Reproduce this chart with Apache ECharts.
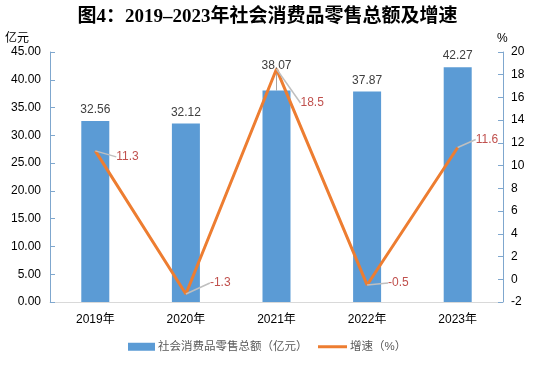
<!DOCTYPE html>
<html><head><meta charset="utf-8">
<script src="https://cdn.jsdelivr.net/npm/echarts@6/dist/echarts.min.js"></script>
<style>html,body{margin:0;padding:0;background:#fff}#c{width:535px;height:368px}</style>
</head><body><div id="c"></div>
<script>
var categories = ['2019年','2020年','2021年','2022年','2023年'];
var salesValues = [32.56, 32.12, 38.07, 37.87, 42.27];
var growthValues = [11.3, -1.3, 18.5, -0.5, 11.6];
var leftTicks = {min: 0, max: 45, interval: 5};
var rightTicks = {min: -2, max: 20, interval: 2};
var seriesNames = ['社会消费品零售总额（亿元）', '增速（%）'];

// label nudges (layout only)
var lineLabelShift = [[16,6],[19,-11],[19,34],[16,-2],[13,-8]];
var barLabelShift = [[0,0],[0,0],[0,-14],[0,0],[0,0]];

var barData = salesValues.map(function(v, i){
  var moved = barLabelShift[i][1] !== 0;
  return {value: v, labelLine: {show: moved}};
});

var chart = echarts.init(document.getElementById('c'), null, {renderer:'canvas'});
var font = "'Liberation Sans','Noto Sans CJK SC',sans-serif";
chart.setOption({
  animation: false,
  textStyle: {fontFamily: font},
  title: {
    text: '图4：2019–2023年社会消费品零售总额及增速',
    left: 'center', top: 3,
    textStyle: {fontFamily: "'Liberation Serif','Noto Sans CJK SC',serif", fontSize: 19, fontWeight: 'bold', color: '#000'}
  },
  graphic: [
    {type:'text', left: 5, top: 33, style:{text:'亿元', font: "12px " + font, fill:'#000'}},
    {type:'text', left: 497, top: 33, style:{text:'%', font: "12px " + font, fill:'#000'}}
  ],
  grid: {left: 50, right: 32, top: 52, bottom: 66},
  legend: [
    {
      top: 341, left: 128, padding: 0, itemWidth: 27, itemHeight: 8, 
      textStyle: {fontSize: 11.5, color: '#595959', fontFamily: font, padding: [0,0,0,-2]},
      data: [{name: seriesNames[0], icon: 'rect'}]
    },
    {
      top: 341, left: 318, padding: 0, itemWidth: 29, itemHeight: 3,
      textStyle: {fontSize: 11.5, color: '#595959', fontFamily: font, padding: [0,0,0,-2]},
      data: [{name: seriesNames[1], icon: 'rect', itemStyle: {color: '#ED7D31'}}]
    }
  ],
  xAxis: {
    type: 'category', data: categories,
    axisLine: {lineStyle: {color: '#D9D9D9'}},
    axisTick: {show: false},
    axisLabel: {color: '#000', fontSize: 12, margin: 12}
  },
  yAxis: [
    {
      type: 'value', min: leftTicks.min, max: leftTicks.max, interval: leftTicks.interval,
      axisLine: {show: true, lineStyle: {color: '#7FA7CE'}},
      axisTick: {show: true, inside: true, length: 5, lineStyle: {color: '#7FA7CE'}},
      splitLine: {show: false},
      axisLabel: {color: '#000', fontSize: 12, margin: 9, formatter: function(v){return v.toFixed(2);}}
    },
    {
      type: 'value', min: rightTicks.min, max: rightTicks.max, interval: rightTicks.interval,
      axisLine: {show: true, lineStyle: {color: '#7FA7CE'}},
      axisTick: {show: true, inside: true, length: 5, lineStyle: {color: '#7FA7CE'}},
      splitLine: {show: false},
      axisLabel: {color: '#000', fontSize: 12, margin: 8}
    }
  ],
  series: [
    {
      name: seriesNames[0], type: 'bar', data: barData, barWidth: 28,
      itemStyle: {color: '#5B9BD5'},
      label: {show: true, position: 'top', color: '#404040', fontSize: 12, distance: 5},
      labelLayout: function(p){ var s = barLabelShift[p.dataIndex]; return {dx: s[0], dy: s[1]}; },
      labelLine: {show: false, lineStyle: {color: '#A6A6A6', width: 1}}
    },
    {
      name: seriesNames[1], type: 'line', yAxisIndex: 1, data: growthValues,
      symbol: 'circle', symbolSize: 0, showSymbol: true,
      lineStyle: {color: '#ED7D31', width: 3}, itemStyle: {color: '#ED7D31'},
      label: {show: true, position: 'right', color: '#C0504D', fontSize: 12, distance: 5},
      labelLayout: function(p){ var s = lineLabelShift[p.dataIndex]; return {dx: s[0], dy: s[1]}; },
      labelLine: {show: true, lineStyle: {color: '#BFBFBF', width: 1.5}}
    }
  ]
});
</script></body></html>
